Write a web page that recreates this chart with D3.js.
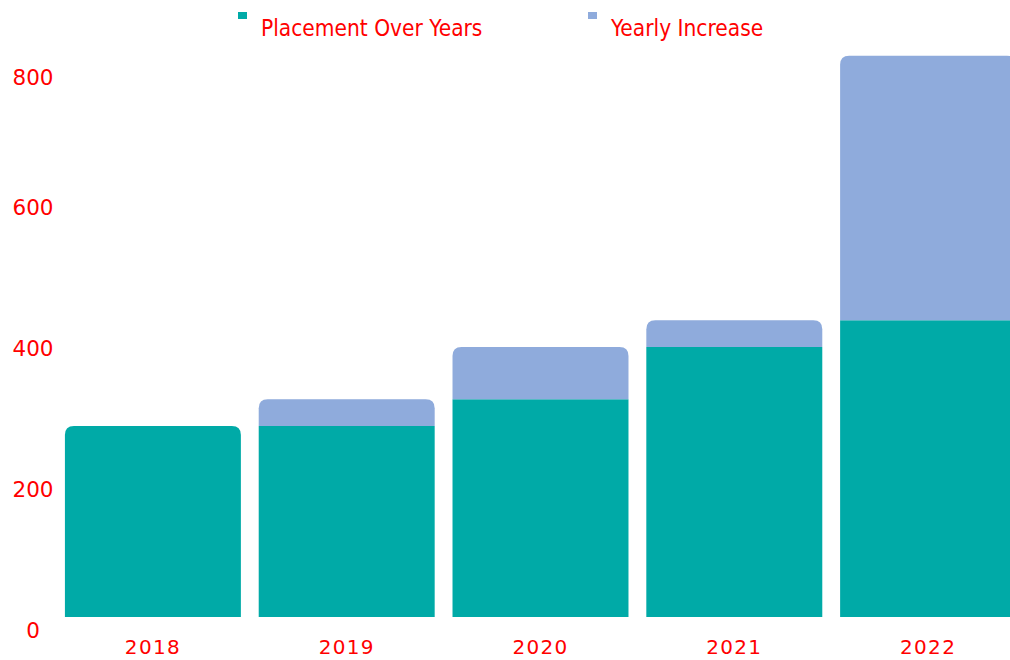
<!DOCTYPE html>
<html>
<head>
    <meta charset="utf-8">
    <title>Placement Over Years</title>
    <script src="https://d3js.org/d3.v7.min.js"></script>
    <style>
        body { margin: 0; background: #fff; }
        svg { display: block; }
    </style>
</head>
<body>
    <svg id="chart"></svg>
    <script>
        // datos
        var years = ["2018", "2019", "2020", "2021", "2022"];
        var placement = [271, 271, 309, 383, 421];
        var increase = [0, 38, 74, 38, 375];
        var yTicks = [0, 200, 400, 600, 800];
        var seriesNames = ["Placement Over Years", "Yearly Increase"];

        var width = 1010, height = 660;
        var colors = ["#00aaa7", "#8fabdc"];

        var data = years.map(function(y, i) {
            return { year: y, placement: placement[i], increase: increase[i] };
        });

        var series = d3.stack().keys(["placement", "increase"])(data);

        var svg = d3.select("#chart")
            .attr("width", width)
            .attr("height", height);

        var x = d3.scaleBand()
            .domain(years)
            .range([56, 1025])
            .paddingInner(0.092)
            .paddingOuter(0.046);

        var y = d3.scaleLinear()
            .domain([0, 800])
            .range([617, 53]);

        // barra con esquinas superiores redondeadas
        function topRounded(x0, y0, w, y1, r) {
            r = Math.min(r, (y0 - y1));
            return "M" + x0 + "," + y0 +
                "V" + (y1 + r) +
                "Q" + x0 + "," + y1 + " " + (x0 + r) + "," + y1 +
                "H" + (x0 + w - r) +
                "Q" + (x0 + w) + "," + y1 + " " + (x0 + w) + "," + (y1 + r) +
                "V" + y0 + "Z";
        }

        var groups = svg.selectAll(".serie")
            .data(series)
            .enter().append("g")
            .attr("fill", function(d, i) { return colors[i]; });

        groups.selectAll("path")
            .data(function(d) { return d.map(function(p) { return { p: p, key: d.key }; }); })
            .enter().append("path")
            .attr("d", function(d) {
                var p = d.p;
                var isTop = (d.key === "increase") || p.data.increase === 0;
                if (p[1] - p[0] <= 0) return null;
                var x0 = x(p.data.year), w = x.bandwidth();
                var yb = y(p[0]), yt = y(p[1]);
                if (isTop) return topRounded(x0, yb, w, yt, 9);
                return "M" + x0 + "," + yb + "H" + (x0 + w) + "V" + yt + "H" + x0 + "Z";
            });

        // eje X
        var xAxis = svg.append("g")
            .attr("transform", "translate(0,617)")
            .call(d3.axisBottom(x).tickSize(0).tickPadding(23));
        xAxis.select(".domain").remove();
        xAxis.selectAll("text")
            .attr("fill", "#ff0000")
            .style("font-family", "'DejaVu Sans', Verdana, sans-serif")
            .style("font-size", "20px")
            .style("letter-spacing", "1.3px");

        // eje Y (etiquetas desplazadas como en el original)
        svg.append("g")
            .selectAll("text")
            .data(yTicks)
            .enter().append("text")
            .attr("x", 33)
            .attr("y", function(d) { return Math.max(77, y(d) + 13); })
            .attr("dy", "0.36em")
            .attr("text-anchor", "middle")
            .attr("fill", "#ff0000")
            .style("font-family", "'DejaVu Sans', Verdana, sans-serif")
            .style("font-size", "21.5px")
            .text(function(d) { return d; });

        // leyenda
        var legendX = [238, 588];
        var legend = svg.append("g")
            .selectAll("g")
            .data(seriesNames)
            .enter().append("g")
            .attr("transform", function(d, i) { return "translate(" + legendX[i] + ",0)"; });

        legend.append("rect")
            .attr("x", 0)
            .attr("y", 12)
            .attr("width", 9)
            .attr("height", 7)
            .attr("fill", function(d, i) { return colors[i]; });

        legend.append("text")
            .attr("x", 23)
            .attr("y", 36)
            .attr("fill", "#ff0000")
            .style("font-family", "'DejaVu Sans Condensed', 'DejaVu Sans', sans-serif")
            .style("font-stretch", "condensed")
            .style("font-size", "22.5px")
            .text(function(d) { return d; });
    </script>
</body>
</html>
